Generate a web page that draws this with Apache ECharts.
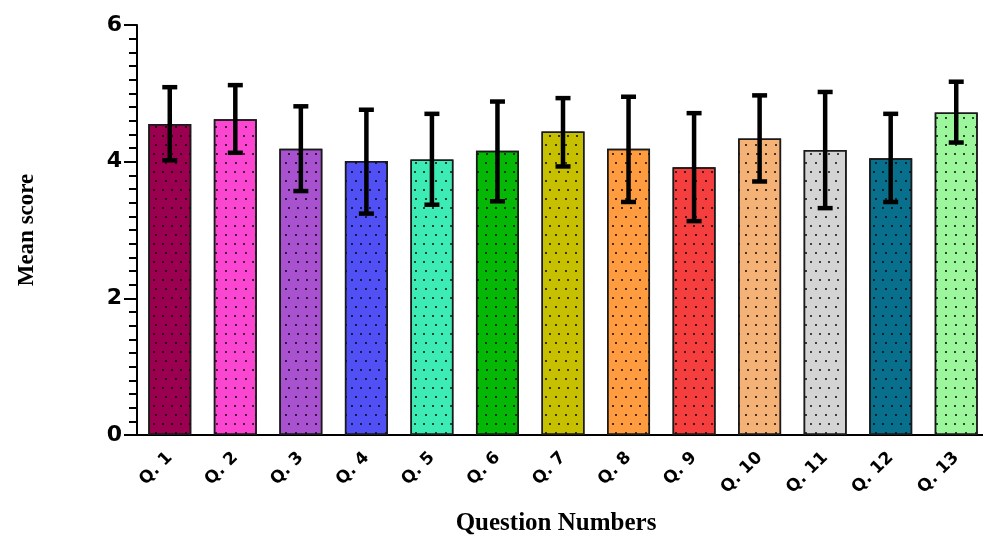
<!DOCTYPE html>
<html><head><meta charset="utf-8">
<script src="https://cdn.jsdelivr.net/npm/echarts@6/dist/echarts.min.js"></script>
<style>html,body{margin:0;padding:0;background:#fff}#c{width:983px;height:537px}</style>
</head><body><div id="c"></div>
<script>
const categories = ['Q. 1','Q. 2','Q. 3','Q. 4','Q. 5','Q. 6','Q. 7','Q. 8','Q. 9','Q. 10','Q. 11','Q. 12','Q. 13'];
const means = [4.55, 4.62, 4.19, 4.01, 4.03, 4.16, 4.44, 4.19, 3.92, 4.34, 4.17, 4.05, 4.72];
const errUpper = [5.09, 5.12, 4.81, 4.76, 4.70, 4.88, 4.93, 4.95, 4.71, 4.97, 5.02, 4.70, 5.17];
const errLower = [4.02, 4.13, 3.57, 3.24, 3.37, 3.42, 3.93, 3.41, 3.13, 3.71, 3.32, 3.41, 4.28];
const colors = ['#9b0050','#fb46d2','#a852cf','#5050f5','#3decb4','#06b806','#c6c000','#ff9c40','#f53e3e','#f5b277','#d4d4d4','#08708c','#9cf79c'];
const yTicks = [0, 2, 4, 6];

const chart = echarts.init(document.getElementById('c'));
const decal = {symbol:'rect', symbolSize:1, color:'rgba(0,0,0,0.7)', dashArrayX:[[2,7],[0,4.5,2,2.5]], dashArrayY:[2,6.5]};
chart.setOption({
  animation:false,
  grid:{left:137, top:25, width:852, height:410, containLabel:false, outerBoundsMode:'none'},
  xAxis:{
    type:'category', data:categories,
    axisLine:{lineStyle:{color:'#000', width:2}},
    axisTick:{alignWithLabel:true, length:9, lineStyle:{color:'#000', width:2}},
    axisLabel:{rotate:45, color:'#000', fontFamily:'DejaVu Sans', fontWeight:'bold', fontSize:17, margin:20},
    name:'Question Numbers', nameLocation:'middle', nameGap:76,
    nameTextStyle:{color:'#000', fontFamily:'Liberation Serif, Times New Roman', fontWeight:'bold', fontSize:25, padding:[0,0,0,-14]}
  },
  yAxis:{
    type:'value', min:yTicks[0], max:yTicks[yTicks.length-1], interval:2,
    axisLine:{show:true, lineStyle:{color:'#000', width:2}},
    axisTick:{show:true, length:13, lineStyle:{color:'#000', width:2}},
    minorTick:{show:true, splitNumber:10, length:8, lineStyle:{color:'#000', width:2}},
    splitLine:{show:false},
    axisLabel:{color:'#000', fontFamily:'DejaVu Sans', fontWeight:'bold', fontSize:22, margin:15},
    name:'Mean score', nameLocation:'middle', nameGap:98, nameRotate:90,
    nameTextStyle:{color:'#000', fontFamily:'Liberation Serif, Times New Roman', fontWeight:'bold', fontSize:23}
  },
  series:[
    {
      type:'bar', barWidth:43,
      data: means.map((v,i)=>({value:v, itemStyle:{color:colors[i], decal:decal}})),
      itemStyle:{borderColor:'#1a1a1a', borderWidth:1.5}
    },
    {
      type:'custom',
      data: categories.map((c,i)=>[i, errLower[i], errUpper[i]]),
      renderItem:function(params, api){
        const x = api.value(0);
        const lo = api.coord([x, api.value(1)]);
        const hi = api.coord([x, api.value(2)]);
        const hw = 7.5;
        const st = {stroke:'#000', lineWidth:4.5};
        return {type:'group', children:[
          {type:'line', shape:{x1:hi[0], y1:hi[1], x2:lo[0], y2:lo[1]}, style:st},
          {type:'line', shape:{x1:hi[0]-hw, y1:hi[1], x2:hi[0]+hw, y2:hi[1]}, style:st},
          {type:'line', shape:{x1:lo[0]-hw, y1:lo[1], x2:lo[0]+hw, y2:lo[1]}, style:st}
        ]};
      },
      z:10
    }
  ]
});
</script></body></html>
